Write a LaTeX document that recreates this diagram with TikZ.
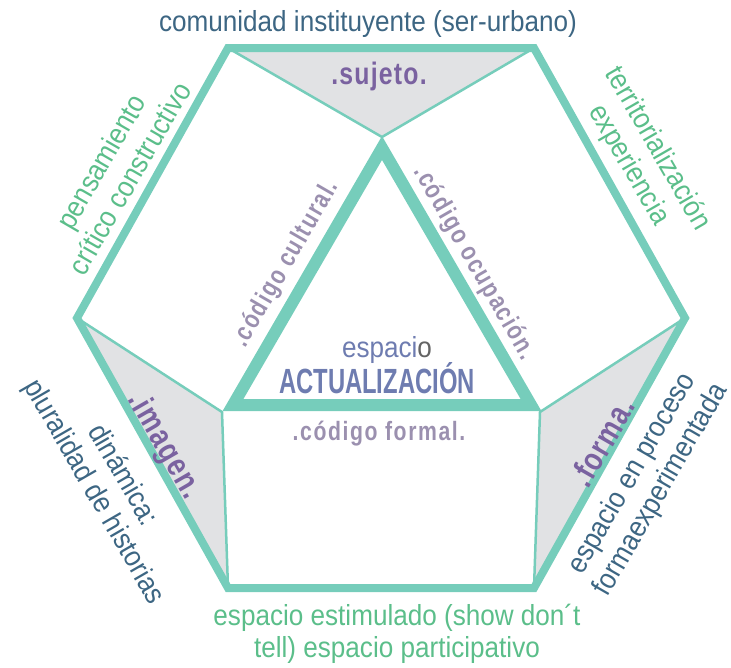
\documentclass[tikz,border=0pt]{standalone}
\usepackage{fontspec}
\setmainfont[FakeStretch=0.9]{Liberation Sans}
\newfontfamily\lblfont[FakeStretch=0.8,LetterSpace=4]{Liberation Sans}
\newfontfamily\codfont[FakeStretch=0.8,LetterSpace=6]{Liberation Sans}
\newfontfamily\actfont[FakeStretch=0.68]{Liberation Sans}
\definecolor{hexteal}{RGB}{118,205,187}
\definecolor{facegray}{RGB}{225,226,228}
\definecolor{darkblue}{RGB}{61,102,131}
\definecolor{softgreen}{RGB}{91,190,138}
\definecolor{labelpurple}{RGB}{122,98,160}
\definecolor{codegray}{RGB}{155,144,175}
\definecolor{actblue}{RGB}{110,124,176}
\definecolor{ogray}{RGB}{100,100,100}
\tikzset{
  thickedge/.style={draw=hexteal, line width=8pt, line join=miter},
  triedge/.style={draw=hexteal, line width=12pt, line join=miter},
  thinedge/.style={draw=hexteal, line width=2.5pt, line join=miter},
  face/.style={fill=facegray},
  txt/.style={inner sep=0pt, align=center, font=\fontsize{29}{33}\selectfont},
  lbl/.style={inner sep=0pt, text=labelpurple, font=\lblfont\bfseries\fontsize{31}{33}\selectfont},
  biglbl/.style={lbl, font=\lblfont\bfseries\fontsize{33}{35}\selectfont},
  cod/.style={inner sep=0pt, text=codegray, font=\codfont\bfseries\fontsize{26.5}{28}\selectfont},
}
\begin{document}
\begin{tikzpicture}[x=1pt,y=-1pt]
\useasboundingbox (0,0) rectangle (731,667);
% hexagon vertices
\coordinate (TL) at (228,48);
\coordinate (TR) at (534,48);
\coordinate (R) at (685,318);
\coordinate (BR) at (534,588);
\coordinate (BL) at (228,588);
\coordinate (L) at (77,318);
% inner points
\coordinate (V) at (382,137);
\coordinate (IL) at (222,412);
\coordinate (IR) at (540,412);
% thick triangle
\coordinate (TA) at (382,148);
\coordinate (TBL) at (233,405);
\coordinate (TBR) at (531,405);
% gray faces
\fill[face] (TL) -- (TR) -- (V) -- cycle;
\fill[face] (L) -- (IL) -- (BL) -- cycle;
\fill[face] (R) -- (IR) -- (BR) -- cycle;
% thin edges
\draw[thinedge] (TL) -- (V) -- (TR);
\draw[thinedge] (L) -- (IL) -- (BL);
\draw[thinedge] (R) -- (IR) -- (BR);
% thick triangle
\draw[triedge] (TA) -- (TBL) -- (TBR) -- cycle;
% hexagon
\draw[thickedge] (TL) -- (TR) -- (R) -- (BR) -- (BL) -- (L) -- cycle;
% outer texts
\node[txt, text=darkblue, anchor=base] (top) at (368,31) {comunidad instituyente (ser-urbano)};
\node[txt, text=softgreen, rotate=60] (tl) at (115,170) {pensamiento\\crítico constructivo};
\node[txt, text=softgreen, rotate=-60] (tr) at (643,157) {territorialización\\experiencia};
\node[txt, text=darkblue, rotate=-60] (bl) at (108,484) {dinámica:\\pluralidad de historias};
\node[txt, text=darkblue, rotate=60] (br) at (647,482) {espacio en proceso\\formaexperimentada};
\node[txt, text=softgreen, anchor=base] (bot1) at (397,625) {espacio estimulado (show don´t};
\node[txt, text=softgreen, anchor=base] (bot2) at (397,657) {tell) espacio participativo};
% labels
\node[lbl, anchor=base] (sujeto) at (379,84) {.sujeto.};
\node[biglbl, rotate=-60] (imagen) at (164,446) {.imagen.};
\node[biglbl, rotate=60] (forma) at (602,442) {.forma.};
\node[cod, rotate=60] (cultural) at (286,264) {.código cultural.};
\node[cod, rotate=-60] (ocupacion) at (474,263) {.código ocupación.};
\node[cod, anchor=base] (formal) at (379,440) {.código formal.};
% center
\node[inner sep=0pt, anchor=base, text=actblue, font=\fontsize{29}{31}\selectfont] (espacio) at (387,357) {espaci\textcolor{ogray}{o}};
\node[inner sep=0pt, anchor=base, text=actblue, font=\actfont\bfseries\fontsize{35}{37}\selectfont] (act) at (377,393) {ACTUALIZACIÓN};
\end{tikzpicture}
\end{document}
